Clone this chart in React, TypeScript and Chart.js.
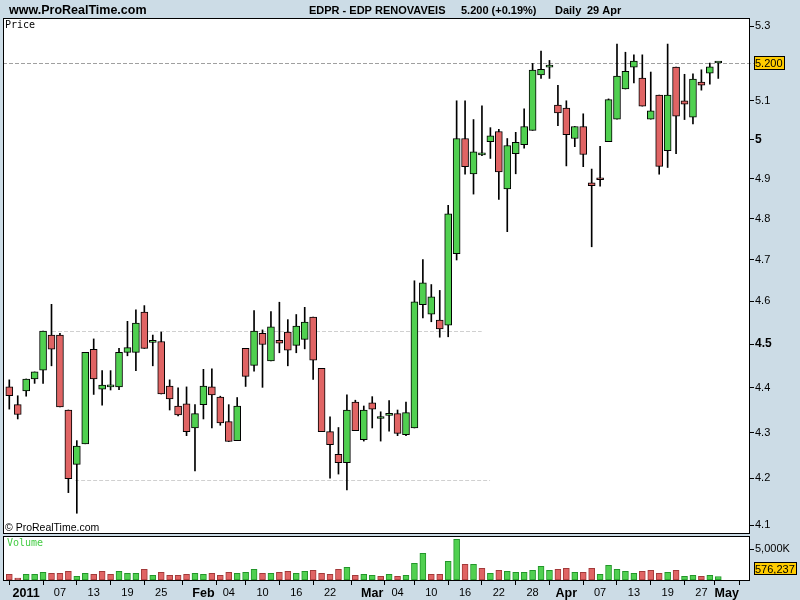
import React, { useEffect, useRef } from "react";
import { Chart, registerables } from "chart.js";
Chart.register(...registerables);

// ---- data ----
const opens = [4.402, 4.362, 4.393, 4.420, 4.440, 4.521, 4.521, 4.350, 4.230, 4.275, 4.488, 4.397, 4.402, 4.402, 4.481, 4.481, 4.575, 4.504, 4.506, 4.404, 4.359, 4.364, 4.310, 4.362, 4.402, 4.379, 4.324, 4.282, 4.490, 4.451, 4.525, 4.461, 4.509, 4.528, 4.497, 4.511, 4.563, 4.444, 4.302, 4.252, 4.234, 4.368, 4.284, 4.366, 4.331, 4.338, 4.342, 4.295, 4.310, 4.592, 4.570, 4.556, 4.544, 4.714, 5.002, 4.912, 4.960, 4.994, 5.020, 4.874, 4.963, 4.986, 5.023, 5.168, 5.189, 5.089, 5.081, 5.002, 5.033, 4.889, 4.902, 4.994, 5.052, 5.131, 5.189, 5.160, 5.052, 5.115, 4.971, 5.189, 5.100, 5.057, 5.149, 5.173, 5.200];
const highs = [4.418, 4.382, 4.420, 4.436, 4.530, 4.593, 4.525, 4.350, 4.282, 4.481, 4.512, 4.439, 4.439, 4.490, 4.553, 4.580, 4.590, 4.521, 4.528, 4.418, 4.400, 4.402, 4.362, 4.442, 4.443, 4.381, 4.362, 4.378, 4.490, 4.578, 4.533, 4.576, 4.598, 4.557, 4.569, 4.586, 4.563, 4.444, 4.335, 4.311, 4.384, 4.372, 4.359, 4.380, 4.346, 4.371, 4.350, 4.368, 4.649, 4.700, 4.640, 4.626, 4.833, 5.100, 5.100, 5.051, 5.087, 5.030, 5.026, 5.002, 5.018, 5.079, 5.199, 5.232, 5.207, 5.141, 5.100, 5.033, 5.066, 4.924, 4.982, 5.105, 5.251, 5.229, 5.222, 5.222, 5.176, 5.115, 5.251, 5.189, 5.170, 5.171, 5.182, 5.200, 5.200];
const lows = [4.352, 4.330, 4.381, 4.410, 4.410, 4.450, 4.357, 4.169, 4.125, 4.275, 4.385, 4.361, 4.395, 4.396, 4.473, 4.439, 4.490, 4.450, 4.386, 4.350, 4.337, 4.293, 4.216, 4.330, 4.310, 4.316, 4.280, 4.282, 4.403, 4.438, 4.401, 4.461, 4.480, 4.450, 4.480, 4.489, 4.419, 4.302, 4.200, 4.209, 4.175, 4.304, 4.281, 4.310, 4.281, 4.303, 4.293, 4.293, 4.310, 4.561, 4.552, 4.516, 4.517, 4.699, 4.911, 4.861, 4.958, 4.951, 4.848, 4.768, 4.912, 4.977, 5.023, 5.159, 5.159, 5.035, 4.932, 4.981, 4.930, 4.731, 4.881, 4.994, 5.052, 5.131, 5.147, 5.086, 5.052, 4.911, 4.928, 4.963, 5.051, 5.040, 5.128, 5.144, 5.159];
const closes = [4.382, 4.340, 4.420, 4.436, 4.530, 4.488, 4.357, 4.199, 4.270, 4.481, 4.420, 4.406, 4.402, 4.481, 4.492, 4.549, 4.490, 4.504, 4.386, 4.375, 4.339, 4.302, 4.342, 4.404, 4.384, 4.321, 4.280, 4.359, 4.426, 4.530, 4.499, 4.540, 4.502, 4.486, 4.542, 4.551, 4.463, 4.302, 4.273, 4.234, 4.350, 4.304, 4.350, 4.352, 4.331, 4.338, 4.298, 4.344, 4.599, 4.644, 4.611, 4.535, 4.812, 5.002, 4.930, 4.968, 4.960, 5.009, 4.917, 4.984, 4.992, 5.033, 5.181, 5.183, 5.194, 5.068, 5.012, 5.033, 4.961, 4.882, 4.897, 5.103, 5.165, 5.178, 5.205, 5.086, 5.074, 4.931, 5.115, 5.060, 5.091, 5.157, 5.141, 5.190, 5.200];
const PREV_CLOSE = 4.41;
// volume in thousands of shares
const volumesK = [924, 326, 924, 924, 1250, 1087, 1087, 1413, 598, 1087, 924, 1413, 924, 1413, 1087, 1087, 1739, 761, 1250, 761, 761, 924, 1087, 924, 1087, 761, 1250, 1087, 1250, 1739, 1087, 1087, 1250, 1413, 1087, 1413, 1576, 1087, 924, 1739, 2065, 761, 924, 761, 598, 924, 598, 761, 2718, 4348, 924, 924, 3043, 6631, 2554, 2554, 1902, 1087, 1576, 1413, 1250, 1250, 1576, 2228, 1576, 1739, 1902, 1250, 1250, 1902, 924, 2391, 1739, 1413, 1087, 1413, 1576, 1087, 1250, 1576, 598, 761, 598, 761, 576.237];

const priceTicks = [4.1, 4.2, 4.3, 4.4, 4.5, 4.6, 4.7, 4.8, 4.9, 5, 5.1, 5.3];
const priceTickLabels = ["4.1", "4.2", "4.3", "4.4", "4.5", "4.6", "4.7", "4.8", "4.9", "5", "5.1", "5.3"];
const boldPriceLabels = ["4.5", "5"];
const volumeTicksK = [5000];
const volumeTickLabels = ["5,000K"];
const xTickIndex = [2, 6, 10, 14, 18, 23, 26, 30, 34, 38, 43, 46, 50, 54, 58, 62, 66, 70, 74, 78, 82, 85];
const xTickLabels = ["2011", "07", "13", "19", "25", "Feb", "04", "10", "16", "22", "Mar", "04", "10", "16", "22", "28", "Apr", "07", "13", "19", "27", "May"];
// horizontal drawing lines: value, start index, end index
const hLineValues = [4.53, 4.197];
const hLineStart = [5.06, 7.8];
const hLineEnd = [55.97, 56.96];

const headerSite = "www.ProRealTime.com";
const headerParts = ["EDPR - EDP RENOVAVEIS", "5.200 (+0.19%)", "Daily", "29 Apr"];

// ---- styles ----
const BG = "#ccdce6";
const GREEN = "#50d050";
const RED = "#e06464";
const GREEN_EDGE = "#23962a";
const RED_EDGE = "#a33a3a";
const FONT = '"Liberation Sans", Arial, sans-serif';
const X_MIN = -0.746;
const X_MAX = 87.64;
const Y_MIN = 4.0833;
const Y_MAX = 5.3219;
const VOL_MAX = 7166;

export default function App() {
  const priceRef = useRef<HTMLCanvasElement>(null);
  const volRef = useRef<HTMLCanvasElement>(null);

  useEffect(() => {
    const idx = closes.map((_, i) => i);
    const bodies = idx.map((i) => ({ x: i, y: [opens[i], closes[i]] }));
    const wicks = idx.map((i) => ({ x: i, y: [lows[i], highs[i]] }));
    const bodyColors = idx.map((i) => (closes[i] >= opens[i] ? GREEN : RED));
    const volUp = idx.map((i) => closes[i] >= (i === 0 ? PREV_CLOSE : closes[i - 1]));
    const last = closes.length - 1;

    const pricePlugin = {
      id: "priceDecor",
      beforeDraw(chart: any) {
        const { ctx, chartArea: a, width, height } = chart;
        ctx.save();
        ctx.fillStyle = BG;
        ctx.fillRect(0, 0, width, height);
        ctx.fillStyle = "#fff";
        ctx.fillRect(a.left, a.top, a.right - a.left, a.bottom - a.top);
        ctx.restore();
      },
      beforeDatasetsDraw(chart: any) {
        const { ctx, chartArea: a } = chart;
        const xs = chart.scales.x;
        const ys = chart.scales.y;
        ctx.save();
        ctx.lineWidth = 1;
        ctx.setLineDash([4, 2]);
        ctx.strokeStyle = "#d0d0d0";
        hLineValues.forEach((v, k) => {
          const y = Math.round(ys.getPixelForValue(v)) + 0.5;
          ctx.beginPath();
          ctx.moveTo(xs.getPixelForValue(hLineStart[k]), y);
          ctx.lineTo(xs.getPixelForValue(hLineEnd[k]), y);
          ctx.stroke();
        });
        ctx.strokeStyle = "#a0a0a0";
        const yl = Math.round(ys.getPixelForValue(closes[last])) + 0.5;
        ctx.beginPath();
        ctx.moveTo(a.left, yl);
        ctx.lineTo(754, yl);
        ctx.stroke();
        ctx.restore();
      },
      afterDraw(chart: any) {
        const { ctx, chartArea: a } = chart;
        const ys = chart.scales.y;
        ctx.save();
        ctx.strokeStyle = "#000";
        ctx.lineWidth = 1;
        ctx.strokeRect(a.left + 0.5, a.top + 0.5, a.right - a.left, a.bottom - a.top);
        // header
        ctx.fillStyle = "#000";
        ctx.textBaseline = "alphabetic";
        ctx.font = `bold 12.5px ${FONT}`;
        ctx.fillText(headerSite, 9, 14);
        ctx.font = `bold 11px ${FONT}`;
        const hx = [309, 461, 555, 587];
        headerParts.forEach((t, k) => ctx.fillText(t, hx[k], 14));
        // panel labels
        ctx.font = `10px "DejaVu Sans Mono", monospace`;
        ctx.fillText("Price", 5, 28);
        ctx.font = `10.5px ${FONT}`;
        ctx.fillText("\u00A9 ProRealTime.com", 5, 531);
        // last price box
        const yl = Math.round(ys.getPixelForValue(closes[last]));
        ctx.fillStyle = "#ffcc00";
        ctx.fillRect(754, yl - 6, 30, 13);
        ctx.strokeRect(754.5, yl - 6.5, 30, 13);
        ctx.fillStyle = "#000";
        ctx.font = `11px ${FONT}`;
        ctx.textBaseline = "middle";
        ctx.fillText(closes[last].toFixed(3), 755, yl + 1);
        ctx.restore();
      },
    };

    const priceChart = new Chart(priceRef.current as HTMLCanvasElement, {
      type: "bar",
      data: {
        datasets: [
          {
            data: bodies as any,
            backgroundColor: bodyColors,
            borderColor: "#000",
            borderWidth: 1,
            borderSkipped: false,
            barThickness: 7,
            minBarLength: 2,
            grouped: false,
            order: 0,
          } as any,
          {
            data: wicks as any,
            backgroundColor: "#000",
            borderWidth: 0,
            barThickness: 1,
            grouped: false,
            order: 1,
          } as any,
        ],
      },
      options: {
        responsive: false,
        animation: false,
        devicePixelRatio: 1,
        layout: { padding: { left: 3, top: 18, right: 0, bottom: 2 } },
        plugins: { legend: { display: false }, tooltip: { enabled: false } },
        scales: {
          x: { type: "linear", min: X_MIN, max: X_MAX, display: false, offset: false },
          y: {
            type: "logarithmic",
            position: "right",
            min: Y_MIN,
            max: Y_MAX,
            bounds: "data",
            afterBuildTicks: (s: any) => {
              s.ticks = priceTicks.map((v) => ({ value: v }));
            },
            afterFit: (s: any) => {
              s.width = 51;
              s.paddingTop = 0;
              s.paddingBottom = 0;
            },
            grid: { drawOnChartArea: false, drawTicks: true, tickLength: 5, tickColor: "#000", color: "#000" },
            border: { display: false },
            ticks: {
              autoSkip: false,
              padding: 1,
              color: "#000",
              callback: (_v: any, i: number) => priceTickLabels[i],
              font: (c: any) => {
                const lbl = priceTickLabels[c.index];
                const b = boldPriceLabels.includes(lbl);
                return { family: FONT, size: b ? 12 : 11, weight: b ? "bold" : "normal" };
              },
            },
          },
        },
      } as any,
      plugins: [pricePlugin],
    });

    const volPlugin = {
      id: "volDecor",
      beforeDraw(chart: any) {
        const { ctx, chartArea: a, width, height } = chart;
        ctx.save();
        ctx.fillStyle = BG;
        ctx.fillRect(0, 0, width, height);
        ctx.fillStyle = "#fff";
        ctx.fillRect(a.left, a.top, a.right - a.left, a.bottom - a.top);
        ctx.restore();
      },
      afterDraw(chart: any) {
        const { ctx, chartArea: a } = chart;
        const ys = chart.scales.y;
        ctx.save();
        ctx.strokeStyle = "#000";
        ctx.lineWidth = 1;
        ctx.strokeRect(a.left + 0.5, a.top + 0.5, a.right - a.left, a.bottom - a.top);
        ctx.fillStyle = "#44cc44";
        ctx.font = `10px "DejaVu Sans Mono", monospace`;
        ctx.textBaseline = "alphabetic";
        ctx.fillText("Volume", 7, 11);
        const yv = Math.round(ys.getPixelForValue(volumesK[last])) - 7;
        ctx.fillStyle = "#ffcc00";
        ctx.fillRect(754, yv - 6, 42, 12);
        ctx.strokeRect(754.5, yv - 6.5, 42, 12);
        ctx.fillStyle = "#000";
        ctx.font = `11px ${FONT}`;
        ctx.textBaseline = "middle";
        ctx.fillText(Math.round(volumesK[last] * 1000).toLocaleString("en-US"), 755, yv + 0.5);
        ctx.restore();
      },
    };

    const volChart = new Chart(volRef.current as HTMLCanvasElement, {
      type: "bar",
      data: {
        datasets: [
          {
            data: idx.map((i) => ({ x: i, y: volumesK[i] })) as any,
            backgroundColor: volUp.map((u) => (u ? GREEN : RED)),
            borderColor: volUp.map((u) => (u ? GREEN_EDGE : RED_EDGE)),
            borderWidth: 1,
            borderSkipped: false,
            barThickness: 6,
            grouped: false,
          } as any,
        ],
      },
      options: {
        responsive: false,
        animation: false,
        devicePixelRatio: 1,
        layout: { padding: { left: 3, top: 1, right: 0, bottom: 0 } },
        plugins: { legend: { display: false }, tooltip: { enabled: false } },
        scales: {
          x: {
            type: "linear",
            min: X_MIN,
            max: X_MAX,
            offset: false,
            position: "bottom",
            afterBuildTicks: (s: any) => {
              s.ticks = xTickIndex.map((v) => ({ value: v }));
            },
            afterFit: (s: any) => {
              s.height = 20;
              s.paddingLeft = 0;
              s.paddingRight = 0;
            },
            grid: { drawOnChartArea: false, drawTicks: true, tickLength: 5, tickColor: "#000", color: "#000" },
            border: { display: false },
            ticks: {
              autoSkip: false,
              maxRotation: 0,
              minRotation: 0,
              padding: 1,
              color: "#000",
              callback: (_v: any, i: number) => xTickLabels[i],
              font: (c: any) => {
                const lbl = xTickLabels[c.index] || "";
                const b = lbl.length !== 2;
                return { family: FONT, size: b ? 12.5 : 11, weight: b ? "bold" : "normal" };
              },
            },
          },
          y: {
            position: "right",
            min: 0,
            max: VOL_MAX,
            afterBuildTicks: (s: any) => {
              s.ticks = volumeTicksK.map((v) => ({ value: v }));
            },
            afterFit: (s: any) => {
              s.width = 51;
              s.paddingTop = 0;
              s.paddingBottom = 0;
            },
            grid: { drawOnChartArea: false, drawTicks: true, tickLength: 5, tickColor: "#000", color: "#000" },
            border: { display: false },
            ticks: {
              autoSkip: false,
              padding: 1,
              color: "#000",
              callback: (_v: any, i: number) => volumeTickLabels[i],
              font: { family: FONT, size: 11 },
            },
          },
        },
      } as any,
      plugins: [volPlugin],
    });

    return () => {
      priceChart.destroy();
      volChart.destroy();
    };
  }, []);

  return (
    <div style={{ position: "absolute", left: 0, top: 0, width: 800, height: 600, background: BG, overflow: "hidden" }}>
      <canvas ref={priceRef} width={800} height={535} style={{ position: "absolute", left: 0, top: 0, width: 800, height: 535 }} />
      <canvas ref={volRef} width={800} height={65} style={{ position: "absolute", left: 0, top: 535, width: 800, height: 65 }} />
    </div>
  );
}
